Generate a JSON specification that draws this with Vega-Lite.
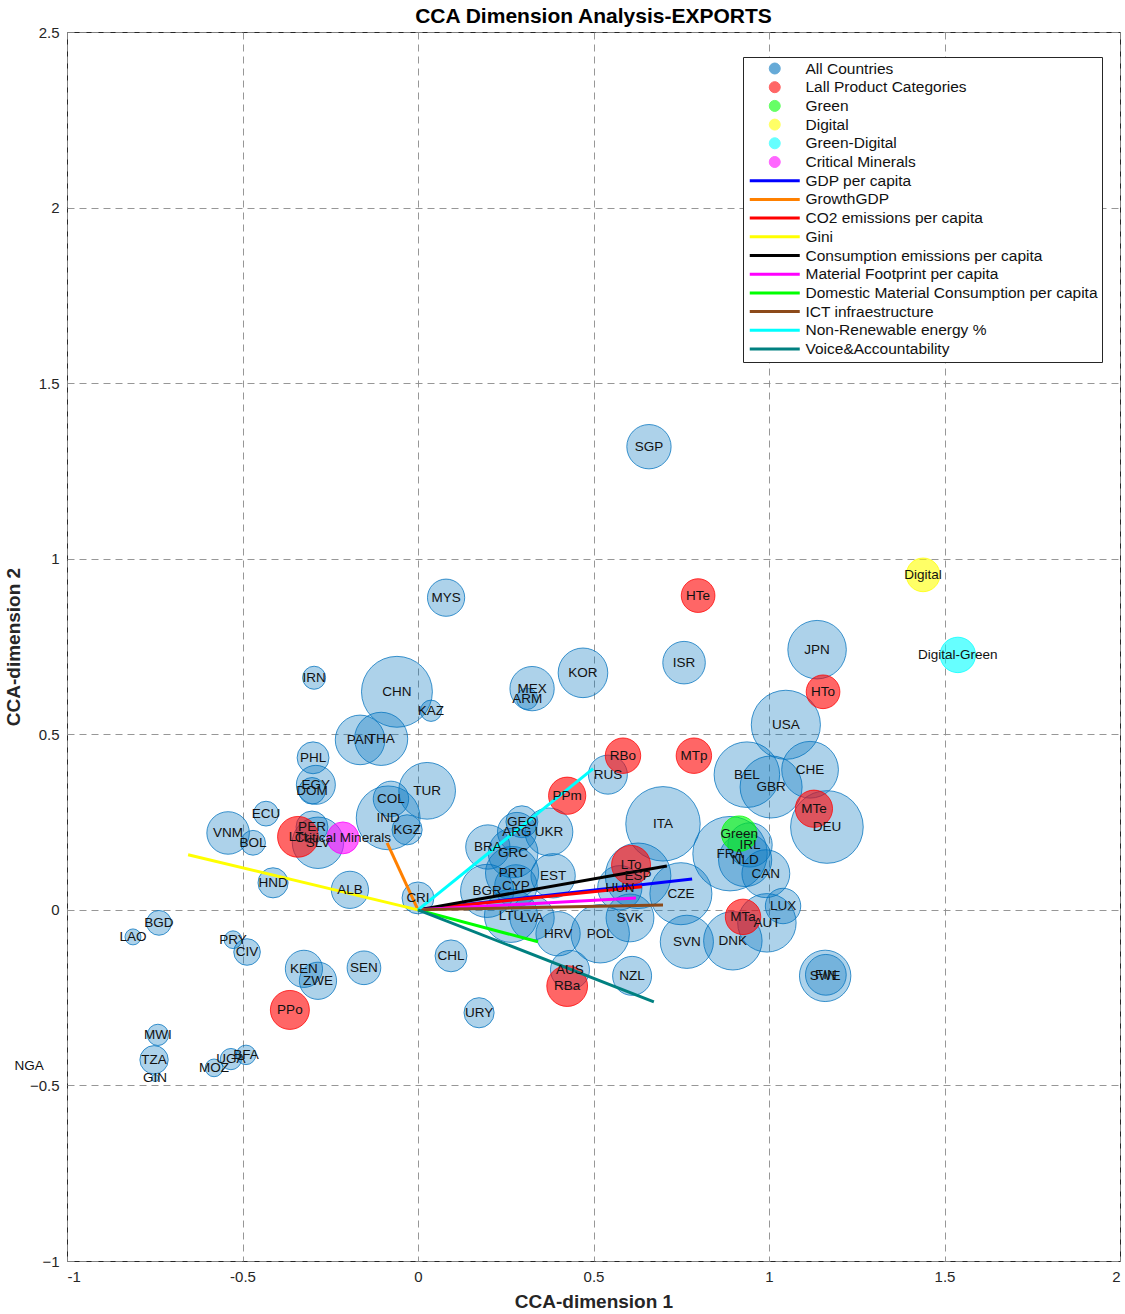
{
  "$schema": "https://vega.github.io/schema/vega-lite/v6.json",
  "autosize": {"type": "none"},
  "width": 1053,
  "height": 1229,
  "padding": {"left": 67, "top": 32, "right": 5, "bottom": 53},
  "background": "white",
  "title": {"text": "CCA Dimension Analysis-EXPORTS", "fontSize": 21, "font": "Liberation Sans", "fontWeight": "bold", "color": "#000000", "offset": 6, "dy": 8, "anchor": "middle"},
  "config": {
    "view": {"stroke": "#262626", "strokeWidth": 1},
    "axis": {"labelFont": "Liberation Sans", "labelFontSize": 15, "labelColor": "#262626", "titleFont": "Liberation Sans", "titleFontSize": 19, "titleFontWeight": "bold", "titleColor": "#262626", "gridColor": "#8c8c8c", "gridDash": [7, 5], "gridOpacity": 0.9, "gridWidth": 1, "ticks": false, "domain": false, "labelPadding": 8}
  },
  "datasets": {
    "bubbles": [
      {"name": "SGP", "group": "All Countries", "x": 0.658, "y": 1.319, "weight": 25},
      {"name": "MYS", "group": "All Countries", "x": 0.080, "y": 0.889, "weight": 21},
      {"name": "IRN", "group": "All Countries", "x": -0.296, "y": 0.661, "weight": 13},
      {"name": "CHN", "group": "All Countries", "x": -0.060, "y": 0.621, "weight": 40},
      {"name": "KAZ", "group": "All Countries", "x": 0.037, "y": 0.567, "weight": 12},
      {"name": "PAN", "group": "All Countries", "x": -0.165, "y": 0.484, "weight": 28},
      {"name": "THA", "group": "All Countries", "x": -0.105, "y": 0.487, "weight": 30},
      {"name": "PHL", "group": "All Countries", "x": -0.299, "y": 0.433, "weight": 18},
      {"name": "EGY", "group": "All Countries", "x": -0.291, "y": 0.356, "weight": 22},
      {"name": "DOM", "group": "All Countries", "x": -0.302, "y": 0.339, "weight": 15},
      {"name": "ECU", "group": "All Countries", "x": -0.433, "y": 0.274, "weight": 14},
      {"name": "VNM", "group": "All Countries", "x": -0.541, "y": 0.219, "weight": 24},
      {"name": "BOL", "group": "All Countries", "x": -0.470, "y": 0.191, "weight": 14},
      {"name": "PER", "group": "All Countries", "x": -0.302, "y": 0.236, "weight": 18},
      {"name": "SLV", "group": "All Countries", "x": -0.285, "y": 0.191, "weight": 29},
      {"name": "IND", "group": "All Countries", "x": -0.085, "y": 0.262, "weight": 36},
      {"name": "COL", "group": "All Countries", "x": -0.077, "y": 0.316, "weight": 20},
      {"name": "KGZ", "group": "All Countries", "x": -0.031, "y": 0.228, "weight": 17},
      {"name": "TUR", "group": "All Countries", "x": 0.026, "y": 0.339, "weight": 32},
      {"name": "HND", "group": "All Countries", "x": -0.413, "y": 0.077, "weight": 17},
      {"name": "ALB", "group": "All Countries", "x": -0.194, "y": 0.057, "weight": 21},
      {"name": "CRI", "group": "All Countries", "x": 0.000, "y": 0.034, "weight": 18},
      {"name": "BGD", "group": "All Countries", "x": -0.738, "y": -0.037, "weight": 14},
      {"name": "LAO", "group": "All Countries", "x": -0.812, "y": -0.077, "weight": 9},
      {"name": "PRY", "group": "All Countries", "x": -0.527, "y": -0.085, "weight": 10},
      {"name": "CIV", "group": "All Countries", "x": -0.487, "y": -0.120, "weight": 15},
      {"name": "KEN", "group": "All Countries", "x": -0.325, "y": -0.168, "weight": 21},
      {"name": "ZWE", "group": "All Countries", "x": -0.285, "y": -0.202, "weight": 21},
      {"name": "SEN", "group": "All Countries", "x": -0.154, "y": -0.165, "weight": 19},
      {"name": "MWI", "group": "All Countries", "x": -0.741, "y": -0.356, "weight": 12},
      {"name": "TZA", "group": "All Countries", "x": -0.752, "y": -0.427, "weight": 16},
      {"name": "GIN", "group": "All Countries", "x": -0.749, "y": -0.479, "weight": 4},
      {"name": "NGA", "group": "All Countries", "x": -1.108, "y": -0.444, "weight": 10},
      {"name": "MOZ", "group": "All Countries", "x": -0.581, "y": -0.450, "weight": 10},
      {"name": "UGA", "group": "All Countries", "x": -0.533, "y": -0.425, "weight": 12},
      {"name": "BFA", "group": "All Countries", "x": -0.490, "y": -0.413, "weight": 11},
      {"name": "CHL", "group": "All Countries", "x": 0.094, "y": -0.131, "weight": 18},
      {"name": "URY", "group": "All Countries", "x": 0.174, "y": -0.293, "weight": 17},
      {"name": "KOR", "group": "All Countries", "x": 0.470, "y": 0.675, "weight": 28},
      {"name": "MEX", "group": "All Countries", "x": 0.325, "y": 0.630, "weight": 25},
      {"name": "ARM", "group": "All Countries", "x": 0.311, "y": 0.601, "weight": 12},
      {"name": "ISR", "group": "All Countries", "x": 0.758, "y": 0.704, "weight": 24},
      {"name": "JPN", "group": "All Countries", "x": 1.137, "y": 0.741, "weight": 33},
      {"name": "USA", "group": "All Countries", "x": 1.048, "y": 0.527, "weight": 39},
      {"name": "RUS", "group": "All Countries", "x": 0.541, "y": 0.385, "weight": 22},
      {"name": "BEL", "group": "All Countries", "x": 0.937, "y": 0.385, "weight": 37},
      {"name": "GBR", "group": "All Countries", "x": 1.006, "y": 0.350, "weight": 35},
      {"name": "CHE", "group": "All Countries", "x": 1.117, "y": 0.399, "weight": 32},
      {"name": "DEU", "group": "All Countries", "x": 1.165, "y": 0.236, "weight": 41},
      {"name": "ITA", "group": "All Countries", "x": 0.698, "y": 0.245, "weight": 42},
      {"name": "IRL", "group": "All Countries", "x": 0.946, "y": 0.185, "weight": 25},
      {"name": "FRA", "group": "All Countries", "x": 0.889, "y": 0.160, "weight": 42},
      {"name": "NLD", "group": "All Countries", "x": 0.932, "y": 0.142, "weight": 30},
      {"name": "CAN", "group": "All Countries", "x": 0.991, "y": 0.103, "weight": 27},
      {"name": "LUX", "group": "All Countries", "x": 1.040, "y": 0.011, "weight": 20},
      {"name": "AUT", "group": "All Countries", "x": 0.994, "y": -0.037, "weight": 33},
      {"name": "DNK", "group": "All Countries", "x": 0.897, "y": -0.088, "weight": 33},
      {"name": "SVN", "group": "All Countries", "x": 0.766, "y": -0.091, "weight": 30},
      {"name": "SWE", "group": "All Countries", "x": 1.160, "y": -0.188, "weight": 29},
      {"name": "FIN", "group": "All Countries", "x": 1.162, "y": -0.185, "weight": 23},
      {"name": "NZL", "group": "All Countries", "x": 0.610, "y": -0.188, "weight": 22},
      {"name": "AUS", "group": "All Countries", "x": 0.433, "y": -0.171, "weight": 22},
      {"name": "HRV", "group": "All Countries", "x": 0.399, "y": -0.068, "weight": 25},
      {"name": "POL", "group": "All Countries", "x": 0.519, "y": -0.068, "weight": 33},
      {"name": "SVK", "group": "All Countries", "x": 0.604, "y": -0.023, "weight": 27},
      {"name": "CZE", "group": "All Countries", "x": 0.749, "y": 0.046, "weight": 35},
      {"name": "HUN", "group": "All Countries", "x": 0.575, "y": 0.063, "weight": 25},
      {"name": "ESP", "group": "All Countries", "x": 0.627, "y": 0.097, "weight": 37},
      {"name": "EST", "group": "All Countries", "x": 0.385, "y": 0.097, "weight": 25},
      {"name": "UKR", "group": "All Countries", "x": 0.373, "y": 0.222, "weight": 27},
      {"name": "GEO", "group": "All Countries", "x": 0.296, "y": 0.251, "weight": 18},
      {"name": "ARG", "group": "All Countries", "x": 0.282, "y": 0.222, "weight": 22},
      {"name": "BRA", "group": "All Countries", "x": 0.199, "y": 0.179, "weight": 25},
      {"name": "GRC", "group": "All Countries", "x": 0.271, "y": 0.162, "weight": 28},
      {"name": "PRT", "group": "All Countries", "x": 0.268, "y": 0.105, "weight": 30},
      {"name": "CYP", "group": "All Countries", "x": 0.279, "y": 0.068, "weight": 24},
      {"name": "BGR", "group": "All Countries", "x": 0.197, "y": 0.054, "weight": 30},
      {"name": "LTU", "group": "All Countries", "x": 0.265, "y": -0.017, "weight": 30},
      {"name": "LVA", "group": "All Countries", "x": 0.325, "y": -0.023, "weight": 25},
      {"name": "HTe", "group": "Lall Product Categories", "x": 0.798, "y": 0.895, "weight": 19},
      {"name": "HTo", "group": "Lall Product Categories", "x": 1.154, "y": 0.621, "weight": 19},
      {"name": "RBo", "group": "Lall Product Categories", "x": 0.584, "y": 0.439, "weight": 20},
      {"name": "MTp", "group": "Lall Product Categories", "x": 0.786, "y": 0.439, "weight": 20},
      {"name": "PPm", "group": "Lall Product Categories", "x": 0.425, "y": 0.325, "weight": 21},
      {"name": "MTe", "group": "Lall Product Categories", "x": 1.128, "y": 0.288, "weight": 21},
      {"name": "LTo", "group": "Lall Product Categories", "x": 0.607, "y": 0.128, "weight": 22},
      {"name": "LTt", "group": "Lall Product Categories", "x": -0.342, "y": 0.208, "weight": 23},
      {"name": "MTa", "group": "Lall Product Categories", "x": 0.926, "y": -0.020, "weight": 20},
      {"name": "RBa", "group": "Lall Product Categories", "x": 0.425, "y": -0.217, "weight": 23},
      {"name": "PPo", "group": "Lall Product Categories", "x": -0.365, "y": -0.285, "weight": 22},
      {"name": "Green", "group": "Green", "x": 0.915, "y": 0.217, "weight": 20},
      {"name": "Digital", "group": "Digital", "x": 1.439, "y": 0.954, "weight": 19},
      {"name": "Digital-Green", "group": "Green-Digital", "x": 1.538, "y": 0.726, "weight": 20},
      {"name": "Critical Minerals", "group": "Critical Minerals", "x": -0.214, "y": 0.205, "weight": 18}
    ],
    "vectors": [
      {"var": "GDP per capita", "x0": 0, "y0": 0, "x": 0.781, "y": 0.088},
      {"var": "GrowthGDP", "x0": 0, "y0": 0, "x": -0.088, "y": 0.191},
      {"var": "CO2 emissions per capita", "x0": 0, "y0": 0, "x": 0.638, "y": 0.066},
      {"var": "Gini", "x0": 0, "y0": 0, "x": -0.655, "y": 0.157},
      {"var": "Consumption emissions per capita", "x0": 0, "y0": 0, "x": 0.709, "y": 0.125},
      {"var": "Material Footprint per capita", "x0": 0, "y0": 0, "x": 0.621, "y": 0.034},
      {"var": "Domestic Material Consumption per capita", "x0": 0, "y0": 0, "x": 0.342, "y": -0.091},
      {"var": "ICT infraestructure", "x0": 0, "y0": 0, "x": 0.698, "y": 0.014},
      {"var": "Non-Renewable energy %", "x0": 0, "y0": 0, "x": 0.499, "y": 0.402},
      {"var": "Voice&Accountability", "x0": 0, "y0": 0, "x": 0.672, "y": -0.262}
    ]
  },
  "layer": [
    {
      "data": {"name": "bubbles"},
      "mark": {"type": "point", "shape": "circle", "filled": true, "opacity": 1, "clip": true, "stroke": {"expr": "scale('color', datum.group)"}, "strokeWidth": 1, "strokeOpacity": 0.75},
      "encoding": {
        "x": {"field": "x", "type": "quantitative", "scale": {"domain": [-1, 2], "nice": false, "zero": false}, "axis": {"values": [-1, -0.5, 0, 0.5, 1, 1.5, 2], "format": "~g", "labelExpr": "replace(datum.label, '−', '-')", "title": "CCA-dimension 1", "titlePadding": 8}},
        "y": {"field": "y", "type": "quantitative", "scale": {"domain": [-1, 2.5], "nice": false, "zero": false}, "axis": {"values": [-1, -0.5, 0, 0.5, 1, 1.5, 2, 2.5], "format": "~g", "title": "CCA-dimension 2", "titlePadding": 6}},
        "color": {
          "field": "group", "type": "nominal",
          "scale": {
            "domain": ["All Countries", "Lall Product Categories", "Green", "Digital", "Green-Digital", "Critical Minerals", "GDP per capita", "GrowthGDP", "CO2 emissions per capita", "Gini", "Consumption emissions per capita", "Material Footprint per capita", "Domestic Material Consumption per capita", "ICT infraestructure", "Non-Renewable energy %", "Voice&Accountability"],
            "range": ["#0072BD", "#ff0000", "#00ff00", "#ffff00", "#00ffff", "#ff00ff", "#0000ff", "#ff8000", "#ff0000", "#ffff00", "#000000", "#ff00ff", "#00ff00", "#8c4a1a", "#00ffff", "#008080"]
          },
          "legend": {
            "title": null, "orient": "none", "legendX": 676, "legendY": 25, "direction": "vertical", "columns": 1,
            "strokeColor": "#262626", "fillColor": "white", "padding": 4, "cornerRadius": 0,
            "labelFont": "Liberation Sans", "labelFontSize": 15.5, "labelColor": "#111111", "labelOffset": 23, "labelLimit": 400,
            "clipHeight": 15, "rowPadding": 2.7, "symbolSize": 2500, "symbolOffset": 20,
            "symbolType": {"expr": "datum.index < 6 ? 'M-0.22,0A0.22,0.22 0 1,0 0.22,0A0.22,0.22 0 1,0 -0.22,0Z' : 'stroke'"},
            "symbolStrokeWidth": {"expr": "datum.index < 6 ? 1 : 3"},
            "symbolOpacity": {"expr": "datum.index < 6 ? 0.6 : 1"}
          }
        },
        "fillOpacity": {"condition": {"test": "datum.group === 'All Countries'", "value": 0.32}, "value": 0.6},
        "size": {"field": "weight", "type": "quantitative", "scale": {"type": "pow", "exponent": 2, "domain": [0, 50], "range": [0, 7854]}, "legend": null}
      }
    },
    {
      "data": {"name": "vectors"},
      "mark": {"type": "rule", "strokeWidth": 3, "clip": true},
      "encoding": {
        "x": {"field": "x0", "type": "quantitative"},
        "y": {"field": "y0", "type": "quantitative"},
        "x2": {"field": "x"},
        "y2": {"field": "y"},
        "color": {"field": "var", "type": "nominal"}
      }
    },
    {
      "data": {"name": "bubbles"},
      "mark": {"type": "text", "font": "Liberation Sans", "fontSize": 13.5, "color": "#111111", "align": "center", "baseline": "middle"},
      "encoding": {
        "x": {"field": "x", "type": "quantitative"},
        "y": {"field": "y", "type": "quantitative"},
        "text": {"field": "name"}
      }
    }
  ]
}
